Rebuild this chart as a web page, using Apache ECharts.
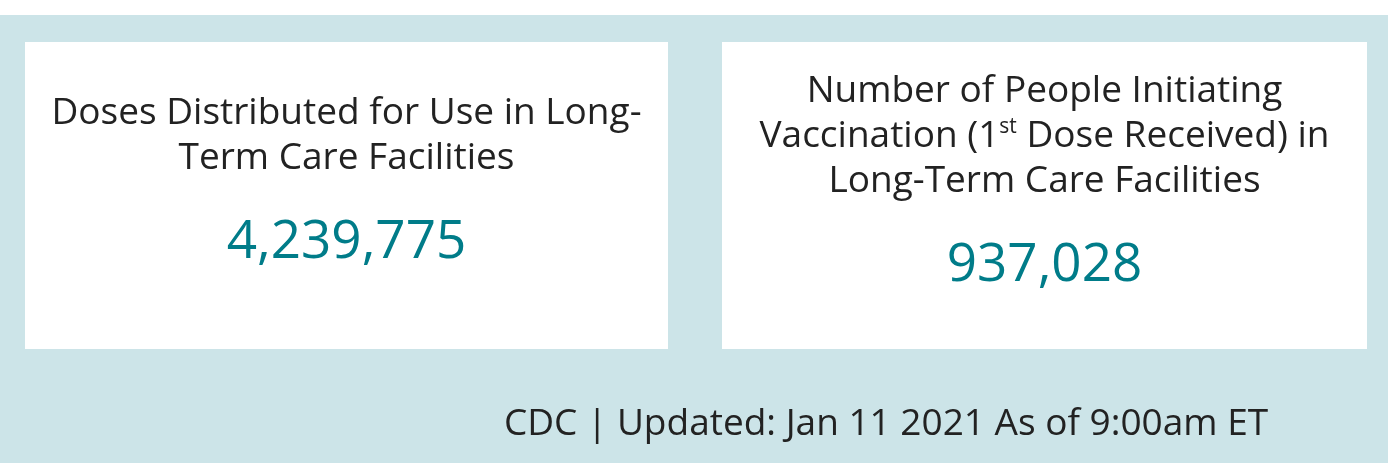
<!DOCTYPE html>
<html>
<head>
    <meta charset="utf-8">
    <title>LTC vaccination</title>
    <script src="https://cdn.jsdelivr.net/npm/echarts@6/dist/echarts.min.js"></script>
    <style>
        html, body { margin: 0; padding: 0; background: #fff; }
        #main { width: 1388px; height: 463px; }
    </style>
</head>
<body>
<div id="main"></div>
<script type="text/javascript">
    // 卡片数据
    var cardTitles = [
        '{t|Doses Distributed for Use in Long-}\n{t|Term Care Facilities}',
        '{t|Number of People Initiating}\n{t|Vaccination (1}{sup|st}{t| Dose Received) in}\n{t|Long-Term Care Facilities}'
    ];
    var cardValues = [4239775, 937028];
    var footerText = 'CDC | Updated: Jan 11 2021 As of 9:00am ET';

    var font = '"Open Sans", "Noto Sans", sans-serif';
    var cards = [
        { x: 25, y: 42, w: 643, h: 307, titleY: 136, valueY: 243 },
        { x: 722, y: 42, w: 645, h: 307, titleY: 136, valueY: 266 }
    ];

    var elements = [
        { type: 'rect', shape: { x: 0, y: 15, width: 1388, height: 448 }, style: { fill: '#cce4e8' } }
    ];

    cards.forEach(function (c, i) {
        elements.push({ type: 'rect', shape: { x: c.x, y: c.y, width: c.w, height: c.h }, style: { fill: '#ffffff' } });
        elements.push({
            type: 'text',
            x: c.x + c.w / 2, y: c.titleY,
            style: {
                text: cardTitles[i],
                align: 'center', verticalAlign: 'middle',
                rich: {
                    t: { fontSize: 37, lineHeight: 45, fontFamily: font, fill: '#222222' },
                    sup: { fontSize: 21, lineHeight: 45, fontFamily: font, fill: '#222222', padding: [0, 0, 18, 0] }
                }
            }
        });
        elements.push({
            type: 'text',
            x: c.x + c.w / 2, y: c.valueY,
            style: {
                text: cardValues[i].toLocaleString('en-US'),
                align: 'center', verticalAlign: 'middle',
                fontSize: 53, fontFamily: font, fill: '#007c89'
            }
        });
    });

    elements.push({
        type: 'text', x: 886, y: 424,
        style: { text: footerText, align: 'center', verticalAlign: 'middle', fontSize: 37, fontFamily: font, fill: '#222222' }
    });

    var myChart = echarts.init(document.getElementById('main'));
    myChart.setOption({ animation: false, graphic: { elements: elements } });
</script>
</body>
</html>
